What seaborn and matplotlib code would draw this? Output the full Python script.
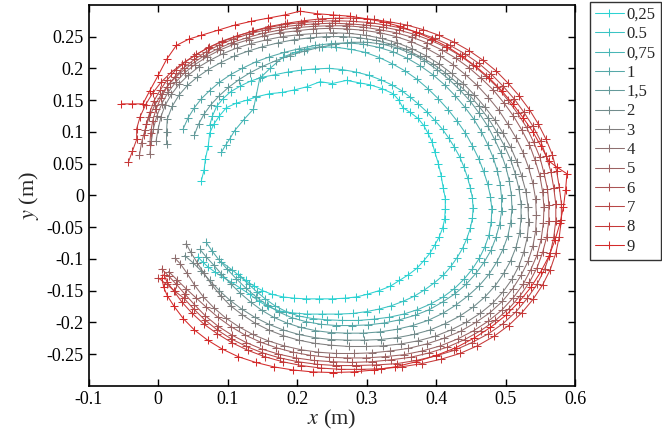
import pandas as pd
import matplotlib
matplotlib.use("Agg")
import matplotlib.pyplot as plt
import seaborn as sns

# legend labels (speed values as written in the figure)
labels = ["0,25", "0.5", "0,75", "1", "1,5", "2", "3", "4", "5", "6", "7", "8", "9"]

# trajectories, (x, y) in metres
c025 = [(0.062,0.023),(0.066,0.040),(0.068,0.058),(0.072,0.078),(0.074,0.098),(0.080,0.112),(0.088,0.125),
        (0.098,0.138),(0.112,0.145),(0.128,0.150),(0.141,0.155),(0.160,0.160),(0.178,0.162),(0.196,0.166),
        (0.214,0.171),(0.233,0.179),(0.250,0.176),(0.271,0.181),(0.290,0.177),(0.305,0.174),(0.322,0.168),
        (0.338,0.160),(0.346,0.150),(0.352,0.138),(0.362,0.131),(0.374,0.121),(0.382,0.110),(0.388,0.098),
        (0.394,0.084),(0.398,0.068),(0.403,0.050),(0.407,0.031),(0.410,0.012),(0.413,-0.005),(0.413,-0.022),
        (0.412,-0.038),(0.409,-0.052),(0.404,-0.066),(0.398,-0.078),(0.391,-0.091),(0.382,-0.103),(0.372,-0.115),
        (0.360,-0.125),(0.347,-0.134),(0.334,-0.143),(0.318,-0.150),(0.300,-0.156),(0.285,-0.160),(0.268,-0.162),
        (0.250,-0.163),(0.232,-0.163),(0.213,-0.163),(0.196,-0.162),(0.180,-0.160),(0.164,-0.156),(0.150,-0.150),
        (0.138,-0.143),(0.126,-0.134),(0.115,-0.124)]

c05 = [(0.074,0.110),(0.078,0.125),(0.084,0.140),(0.093,0.152),(0.104,0.163),(0.118,0.172),(0.133,0.180),
       (0.150,0.186),(0.168,0.190),(0.186,0.194),(0.205,0.197),(0.225,0.199),(0.245,0.200),(0.265,0.198),
       (0.285,0.194),(0.303,0.189),(0.320,0.182),(0.336,0.174),(0.350,0.165),(0.362,0.155),(0.374,0.144),
       (0.386,0.132),(0.398,0.118),(0.409,0.104),(0.418,0.090),(0.426,0.076),(0.434,0.060),(0.440,0.044),
       (0.445,0.028),(0.449,0.012),(0.452,-0.004),(0.453,-0.020),(0.452,-0.036),(0.449,-0.052),(0.444,-0.068),
       (0.438,-0.083),(0.430,-0.098),(0.421,-0.112),(0.410,-0.126),(0.397,-0.138),(0.383,-0.149),(0.368,-0.159),
       (0.352,-0.167),(0.335,-0.174),(0.318,-0.179),(0.300,-0.183),(0.280,-0.186),(0.258,-0.187),(0.236,-0.187),
       (0.214,-0.187),(0.193,-0.185),(0.174,-0.182),(0.158,-0.175),(0.145,-0.167),(0.132,-0.156),(0.118,-0.146),
       (0.104,-0.136),(0.093,-0.129),(0.082,-0.121),(0.072,-0.113),(0.064,-0.105),(0.057,-0.097)]

c075 = [(0.091,0.068),(0.097,0.079),(0.103,0.089),(0.110,0.102),(0.123,0.119),(0.137,0.136),(0.141,0.157),
        (0.146,0.184),(0.161,0.200),(0.180,0.218),(0.197,0.225),(0.214,0.231),(0.235,0.234),(0.256,0.233),
        (0.277,0.230),(0.298,0.225),(0.318,0.217),(0.337,0.207),(0.355,0.196),(0.372,0.183),(0.388,0.168),
        (0.403,0.152),(0.417,0.135),(0.430,0.117),(0.442,0.098),(0.452,0.078),(0.461,0.058),(0.468,0.038),
        (0.474,0.018),(0.478,-0.002),(0.480,-0.022),(0.479,-0.042),(0.476,-0.062),(0.470,-0.081),(0.462,-0.099),
        (0.452,-0.116),(0.440,-0.132),(0.426,-0.147),(0.410,-0.160),(0.392,-0.171),(0.373,-0.180),(0.353,-0.187),
        (0.332,-0.192),(0.310,-0.195),(0.288,-0.197),(0.265,-0.197),(0.243,-0.196),(0.222,-0.194),(0.202,-0.190),
        (0.184,-0.183),(0.168,-0.174),(0.154,-0.163),(0.142,-0.152),(0.130,-0.140),(0.118,-0.128),(0.106,-0.117),
        (0.091,-0.105)]

c1 = [(0.036,0.105),(0.043,0.122),(0.052,0.138),(0.062,0.152),(0.074,0.165),(0.088,0.178),(0.104,0.190),
      (0.121,0.200),(0.140,0.210),(0.160,0.218),(0.181,0.225),(0.203,0.231),(0.226,0.236),(0.249,0.239),
      (0.272,0.240),(0.295,0.238),(0.317,0.233),(0.338,0.226),(0.358,0.216),(0.377,0.204),(0.395,0.190),
      (0.412,0.174),(0.427,0.157),(0.441,0.139),(0.454,0.120),(0.465,0.100),(0.474,0.080),(0.482,0.059),
      (0.488,0.038),(0.492,0.017),(0.494,-0.004),(0.494,-0.025),(0.491,-0.046),(0.486,-0.066),(0.479,-0.086),
      (0.469,-0.105),(0.457,-0.123),(0.443,-0.140),(0.427,-0.155),(0.409,-0.168),(0.390,-0.180),(0.369,-0.189),
      (0.347,-0.196),(0.325,-0.201),(0.302,-0.204),(0.279,-0.205),(0.256,-0.205),(0.234,-0.203),(0.213,-0.199),
      (0.193,-0.193),(0.174,-0.184),(0.157,-0.173),(0.141,-0.160),(0.126,-0.146),(0.112,-0.131),(0.099,-0.116),
      (0.087,-0.101),(0.077,-0.087),(0.069,-0.074)]

c15 = [(0.052,0.095),(0.058,0.112),(0.066,0.128),(0.076,0.143),(0.088,0.157),(0.101,0.170),(0.116,0.182),
       (0.132,0.193),(0.150,0.203),(0.169,0.212),(0.189,0.220),(0.210,0.227),(0.232,0.233),(0.255,0.238),
       (0.278,0.241),(0.301,0.241),(0.323,0.238),(0.344,0.232),(0.364,0.223),(0.383,0.212),(0.401,0.198),
       (0.418,0.183),(0.434,0.166),(0.449,0.148),(0.462,0.129),(0.474,0.109),(0.484,0.088),(0.493,0.067),
       (0.500,0.045),(0.505,0.023),(0.508,0.001),(0.509,-0.021),(0.507,-0.043),(0.503,-0.064),(0.496,-0.085),
       (0.487,-0.105),(0.476,-0.124),(0.462,-0.142),(0.446,-0.158),(0.428,-0.173),(0.409,-0.186),(0.388,-0.197),
       (0.366,-0.205),(0.343,-0.211),(0.319,-0.215),(0.295,-0.217),(0.271,-0.217),(0.248,-0.216),(0.226,-0.213),
       (0.205,-0.208),(0.185,-0.201),(0.166,-0.192),(0.149,-0.181),(0.133,-0.168),(0.118,-0.154),(0.104,-0.139),
       (0.091,-0.124),(0.080,-0.110),(0.069,-0.097),(0.060,-0.085)]

c2 = [(0.012,0.081),(0.012,0.100),(0.013,0.120),(0.020,0.140),(0.030,0.158),(0.042,0.173),(0.056,0.186),
      (0.072,0.198),(0.090,0.209),(0.109,0.219),(0.129,0.227),(0.150,0.234),(0.172,0.240),(0.195,0.245),
      (0.218,0.248),(0.242,0.250),(0.266,0.250),(0.290,0.248),(0.313,0.244),(0.335,0.238),(0.356,0.230),
      (0.376,0.219),(0.395,0.207),(0.413,0.193),(0.430,0.177),(0.446,0.160),(0.461,0.141),(0.475,0.121),
      (0.487,0.100),(0.498,0.078),(0.507,0.056),(0.514,0.033),(0.519,0.010),(0.522,-0.013),(0.522,-0.036),
      (0.520,-0.059),(0.515,-0.081),(0.507,-0.103),(0.497,-0.123),(0.485,-0.142),(0.470,-0.160),(0.453,-0.176),
      (0.434,-0.190),(0.413,-0.202),(0.391,-0.212),(0.368,-0.219),(0.344,-0.224),(0.320,-0.227),(0.296,-0.228),
      (0.272,-0.228),(0.248,-0.227),(0.225,-0.224),(0.202,-0.219),(0.180,-0.212),(0.159,-0.203),(0.139,-0.192),
      (0.120,-0.179),(0.103,-0.165),(0.088,-0.150),(0.074,-0.134),(0.062,-0.119),(0.050,-0.106),(0.038,-0.095)]

c3 = [(-0.003,0.086),(0.000,0.105),(0.004,0.124),(0.010,0.142),(0.019,0.159),(0.030,0.175),(0.043,0.189),
      (0.058,0.202),(0.075,0.213),(0.093,0.223),(0.113,0.232),(0.134,0.239),(0.156,0.245),(0.179,0.250),
      (0.203,0.253),(0.227,0.255),(0.251,0.256),(0.275,0.255),(0.299,0.252),(0.322,0.247),(0.344,0.240),
      (0.365,0.231),(0.385,0.220),(0.404,0.207),(0.422,0.192),(0.439,0.176),(0.455,0.158),(0.470,0.139),
      (0.484,0.119),(0.496,0.098),(0.507,0.076),(0.516,0.053),(0.523,0.030),(0.529,0.006),(0.532,-0.018),
      (0.533,-0.042),(0.531,-0.066),(0.526,-0.089),(0.519,-0.111),(0.509,-0.132),(0.496,-0.152),(0.481,-0.170),
      (0.463,-0.186),(0.443,-0.200),(0.421,-0.212),(0.398,-0.222),(0.374,-0.229),(0.349,-0.234),(0.324,-0.237),
      (0.299,-0.238),(0.274,-0.238),(0.249,-0.236),(0.225,-0.233),(0.202,-0.228),(0.180,-0.221),(0.159,-0.212),
      (0.139,-0.201),(0.121,-0.188),(0.104,-0.174),(0.090,-0.158),(0.077,-0.141),(0.066,-0.123),(0.056,-0.106),
      (0.047,-0.090),(0.040,-0.076)]

c4 = [(-0.012,0.065),(-0.010,0.085),(-0.007,0.105),(-0.002,0.125),(0.005,0.144),(0.014,0.162),(0.025,0.178),
      (0.038,0.193),(0.053,0.206),(0.070,0.218),(0.089,0.229),(0.109,0.238),(0.130,0.245),(0.152,0.251),
      (0.175,0.256),(0.199,0.259),(0.223,0.262),(0.247,0.263),(0.271,0.262),(0.295,0.260),(0.319,0.256),
      (0.342,0.250),(0.364,0.242),(0.385,0.232),(0.405,0.220),(0.424,0.206),(0.442,0.190),(0.459,0.173),
      (0.475,0.154),(0.490,0.134),(0.503,0.112),(0.515,0.090),(0.525,0.067),(0.533,0.043),(0.539,0.019),
      (0.543,-0.006),(0.544,-0.031),(0.543,-0.056),(0.539,-0.080),(0.532,-0.104),(0.522,-0.126),(0.510,-0.147),
      (0.495,-0.167),(0.477,-0.185),(0.457,-0.200),(0.435,-0.214),(0.411,-0.225),(0.386,-0.234),(0.360,-0.241),
      (0.334,-0.245),(0.308,-0.248),(0.282,-0.249),(0.256,-0.249),(0.230,-0.247),(0.205,-0.243),(0.181,-0.237),
      (0.158,-0.229),(0.136,-0.219),(0.116,-0.207),(0.097,-0.193),(0.080,-0.177),(0.065,-0.160),(0.052,-0.141),
      (0.041,-0.122),(0.032,-0.108),(0.024,-0.099)]

c5 = [(-0.027,0.063),(-0.024,0.083),(-0.019,0.103),(-0.013,0.123),(-0.005,0.142),(0.005,0.160),(0.017,0.177),
      (0.031,0.192),(0.047,0.206),(0.065,0.219),(0.084,0.230),(0.105,0.240),(0.127,0.248),(0.150,0.255),
      (0.174,0.260),(0.198,0.264),(0.222,0.266),(0.246,0.267),(0.270,0.267),(0.294,0.265),(0.318,0.261),
      (0.342,0.256),(0.365,0.249),(0.387,0.240),(0.408,0.229),(0.428,0.216),(0.447,0.201),(0.465,0.184),
      (0.482,0.166),(0.497,0.146),(0.511,0.125),(0.523,0.103),(0.534,0.080),(0.542,0.056),(0.549,0.031),
      (0.553,0.006),(0.555,-0.019),(0.554,-0.044),(0.551,-0.069),(0.545,-0.094),(0.536,-0.117),(0.525,-0.140),
      (0.511,-0.161),(0.494,-0.181),(0.475,-0.198),(0.454,-0.213),(0.431,-0.226),(0.406,-0.237),(0.380,-0.245),
      (0.353,-0.251),(0.326,-0.254),(0.299,-0.256),(0.272,-0.256),(0.245,-0.255),(0.219,-0.252),(0.194,-0.247),
      (0.170,-0.240),(0.147,-0.231),(0.125,-0.220),(0.105,-0.207),(0.086,-0.192),(0.069,-0.176),(0.054,-0.161),
      (0.040,-0.147),(0.027,-0.133),(0.015,-0.120)]

c6 = [(-0.012,0.079),(-0.011,0.098),(-0.008,0.117),(-0.003,0.136),(0.004,0.154),(0.013,0.171),(0.024,0.187),
      (0.037,0.201),(0.052,0.214),(0.069,0.226),(0.088,0.237),(0.108,0.246),(0.130,0.254),(0.153,0.260),
      (0.177,0.265),(0.201,0.268),(0.225,0.270),(0.250,0.271),(0.275,0.270),(0.299,0.268),(0.323,0.265),
      (0.347,0.260),(0.370,0.253),(0.392,0.244),(0.414,0.233),(0.434,0.220),(0.453,0.205),(0.471,0.188),
      (0.488,0.170),(0.503,0.150),(0.517,0.129),(0.530,0.107),(0.540,0.084),(0.549,0.060),(0.555,0.035),
      (0.560,0.010),(0.562,-0.015),(0.562,-0.040),(0.559,-0.065),(0.553,-0.090),(0.545,-0.114),(0.534,-0.137),
      (0.520,-0.159),(0.504,-0.179),(0.485,-0.197),(0.464,-0.213),(0.441,-0.227),(0.416,-0.239),(0.390,-0.248),
      (0.363,-0.255),(0.335,-0.259),(0.307,-0.262),(0.279,-0.263),(0.251,-0.262),(0.224,-0.260),(0.198,-0.256),
      (0.173,-0.250),(0.149,-0.242),(0.127,-0.232),(0.106,-0.220),(0.086,-0.206),(0.068,-0.190),(0.052,-0.172),
      (0.038,-0.155),(0.026,-0.140),(0.015,-0.127),(0.005,-0.116)]

c7 = [(-0.020,0.095),(-0.017,0.113),(-0.012,0.131),(-0.006,0.149),(0.003,0.166),(0.013,0.182),(0.025,0.197),
      (0.039,0.210),(0.055,0.222),(0.073,0.233),(0.092,0.243),(0.113,0.251),(0.135,0.258),(0.158,0.264),
      (0.182,0.269),(0.206,0.272),(0.230,0.274),(0.255,0.275),(0.280,0.274),(0.304,0.272),(0.328,0.268),
      (0.352,0.263),(0.375,0.256),(0.398,0.247),(0.420,0.236),(0.441,0.223),(0.461,0.208),(0.479,0.191),
      (0.496,0.172),(0.512,0.152),(0.526,0.131),(0.539,0.109),(0.550,0.086),(0.558,0.062),(0.565,0.037),
      (0.569,0.012),(0.572,-0.014),(0.572,-0.040),(0.569,-0.066),(0.564,-0.091),(0.556,-0.116),(0.545,-0.140),
      (0.531,-0.162),(0.515,-0.183),(0.496,-0.202),(0.475,-0.218),(0.451,-0.232),(0.426,-0.244),(0.399,-0.253),
      (0.371,-0.260),(0.343,-0.265),(0.314,-0.267),(0.285,-0.268),(0.256,-0.268),(0.228,-0.266),(0.201,-0.262),
      (0.175,-0.256),(0.150,-0.248),(0.127,-0.238),(0.105,-0.226),(0.085,-0.212),(0.067,-0.196),(0.051,-0.179),
      (0.037,-0.162),(0.024,-0.151),(0.012,-0.140),(0.000,-0.130)]

c8 = [(-0.043,0.052),(-0.037,0.070),(-0.031,0.088),(-0.031,0.105),(-0.026,0.124),(-0.018,0.143),(-0.008,0.161),
      (0.004,0.178),(0.018,0.193),(0.034,0.207),(0.052,0.220),(0.071,0.232),(0.092,0.242),(0.114,0.251),
      (0.137,0.259),(0.161,0.266),(0.185,0.271),(0.210,0.275),(0.235,0.278),(0.260,0.279),(0.285,0.279),
      (0.310,0.277),(0.334,0.273),(0.358,0.268),(0.381,0.261),(0.404,0.252),(0.426,0.241),(0.447,0.228),
      (0.467,0.213),(0.486,0.196),(0.503,0.177),(0.519,0.157),(0.534,0.135),(0.547,0.112),(0.558,0.088),
      (0.567,0.064),(0.573,0.039),(0.577,0.013),(0.580,-0.013),(0.580,-0.039),(0.577,-0.065),(0.572,-0.091),
      (0.564,-0.117),(0.553,-0.141),(0.539,-0.164),(0.523,-0.185),(0.504,-0.205),(0.483,-0.222),(0.459,-0.237),
      (0.434,-0.249),(0.407,-0.258),(0.379,-0.265),(0.350,-0.270),(0.321,-0.273),(0.292,-0.274),(0.263,-0.274),
      (0.234,-0.272),(0.206,-0.268),(0.179,-0.262),(0.153,-0.254),(0.129,-0.244),(0.106,-0.232),(0.085,-0.218),
      (0.066,-0.203),(0.049,-0.186),(0.034,-0.168),(0.022,-0.150),(0.013,-0.137),(0.008,-0.125)]

c9 = [(-0.053,0.144),(-0.038,0.144),(-0.022,0.144),(-0.012,0.165),(0.000,0.189),(0.012,0.214),(0.026,0.236),
      (0.044,0.246),(0.062,0.252),(0.086,0.260),(0.110,0.268),(0.134,0.274),(0.158,0.279),(0.182,0.284),
      (0.204,0.290),(0.228,0.286),(0.252,0.284),(0.276,0.282),(0.300,0.278),(0.324,0.273),(0.348,0.266),
      (0.371,0.257),(0.394,0.246),(0.416,0.234),(0.437,0.219),(0.457,0.203),(0.476,0.185),(0.494,0.165),
      (0.510,0.144),(0.525,0.122),(0.539,0.100),(0.551,0.077),(0.562,0.054),(0.574,0.044),(0.588,0.034),
      (0.586,0.008),(0.583,-0.018),(0.578,-0.044),(0.571,-0.070),(0.562,-0.096),(0.550,-0.121),(0.536,-0.145),
      (0.519,-0.168),(0.500,-0.189),(0.478,-0.208),(0.454,-0.225),(0.428,-0.240),(0.400,-0.252),(0.371,-0.262),
      (0.341,-0.270),(0.311,-0.275),(0.281,-0.278),(0.251,-0.279),(0.222,-0.278),(0.194,-0.275),(0.166,-0.270),
      (0.140,-0.263),(0.115,-0.254),(0.092,-0.242),(0.071,-0.228),(0.052,-0.212),(0.036,-0.194),(0.023,-0.175),
      (0.013,-0.158),(0.008,-0.145),(0.005,-0.130)]

curves = [c025, c05, c075, c1, c15, c2, c3, c4, c5, c6, c7, c8, c9]

# long table for seaborn
rows = []
for lab, pts in zip(labels, curves):
    for i, (x, y) in enumerate(pts):
        rows.append({"speed": lab, "step": i, "x": x, "y": y})
df = pd.DataFrame(rows)

sns.set_style("ticks")
plt.rcParams["font.family"] = ["Liberation Serif", "DejaVu Serif"]
plt.rcParams["mathtext.fontset"] = "stix"
plt.rcParams["axes.unicode_minus"] = False

# cyan -> grey -> red
colors = sns.blend_palette(["#2cd2d2", "#d42a2a"], n_colors=len(labels))

fig = plt.figure(figsize=(6.62, 4.37), dpi=100)
ax = fig.add_axes([0.134, 0.117, 0.735, 0.872])

handles = []
for lab, col in zip(labels, colors):
    sns.lineplot(data=df[df["speed"] == lab], x="x", y="y", sort=False, estimator=None,
                 color=col, linewidth=0.75, marker="+", markersize=5.5, markeredgewidth=0.75,
                 markeredgecolor=col, markerfacecolor=col, legend=False, ax=ax)
    handles.append(ax.get_lines()[-1])

ax.set_xlim(-0.1, 0.6)
ax.set_ylim(-0.3, 0.3)
ax.set_xticks([-0.1, 0, 0.1, 0.2, 0.3, 0.4, 0.5, 0.6])
ax.set_xticklabels(["-0.1", "0", "0.1", "0.2", "0.3", "0.4", "0.5", "0.6"])
ax.set_yticks([-0.25, -0.2, -0.15, -0.1, -0.05, 0, 0.05, 0.1, 0.15, 0.2, 0.25])
ax.set_yticklabels(["-0.25", "-0.2", "-0.15", "-0.1", "-0.05", "0", "0.05", "0.1", "0.15", "0.2", "0.25"])
ax.tick_params(direction="in", top=True, right=True, length=5, width=1, labelsize=13, colors="black")
for s in ax.spines.values():
    s.set_linewidth(1.2)
    s.set_color("black")

ax.set_xlabel(r"$x$ (m)", fontsize=16, labelpad=0)
ax.set_ylabel(r"$y$ (m)", fontsize=16, labelpad=4)

leg = ax.legend(handles, labels, loc="upper left", bbox_to_anchor=(1.03, 1.008), borderaxespad=0,
                fontsize=12, labelspacing=0.2, handlelength=1.75, handletextpad=0.15,
                frameon=True, fancybox=False, edgecolor="black", borderpad=0.3)
leg.get_frame().set_linewidth(1.0)

fig.savefig("out.png", dpi=100)
